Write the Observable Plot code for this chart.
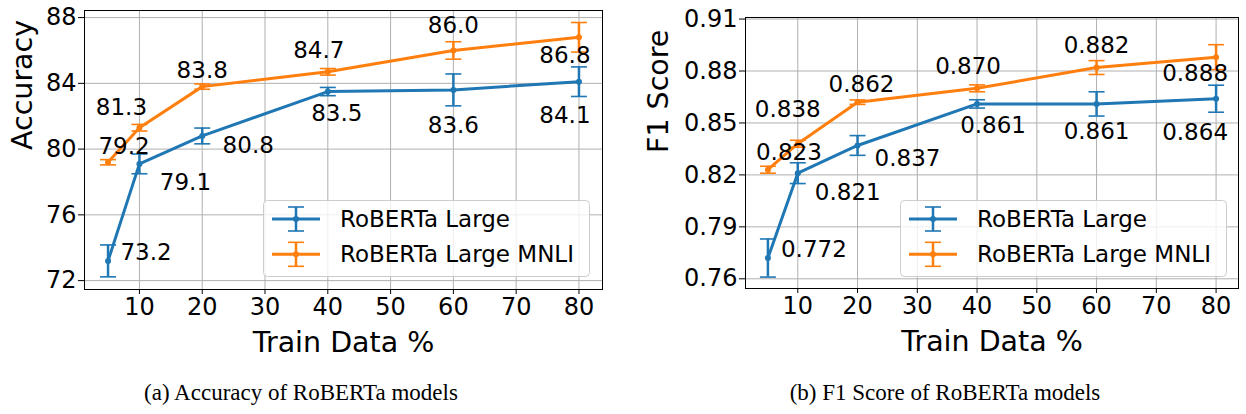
<!DOCTYPE html>
<html>
<head>
<meta charset="utf-8">
<script src="https://cdn.jsdelivr.net/npm/d3@7"></script>
<script src="https://cdn.jsdelivr.net/npm/@observablehq/plot@0.6"></script>
<style>
  html, body { margin: 0; padding: 0; background: white; }
  #root { position: relative; width: 1246px; height: 414px; overflow: hidden; font-family: "DejaVu Sans", sans-serif; }
  .panel { position: absolute; top: 0; }
  .caption { position: absolute; top: 381px; width: 500px; text-align: center; font-family: "Liberation Serif", "Times New Roman", serif; font-size: 23px; line-height: 23px; color: black; }
  .legend { position: absolute; overflow: visible; }
</style>
</head>
<body>
<div id="root"></div>
<script>
// ---- data ----
const trainPct = [5, 10, 20, 40, 60, 80];
const seriesNames = ["RoBERTa Large", "RoBERTa Large MNLI"];
const accLarge = [73.2, 79.1, 80.8, 83.5, 83.6, 84.1];
const accLargeErr = [0.97, 0.6, 0.48, 0.25, 0.97, 0.9];
const accMnli = [79.2, 81.3, 83.8, 84.7, 86.0, 86.8];
const accMnliErr = [0.16, 0.2, 0.16, 0.2, 0.53, 0.9];
const f1Large = [0.772, 0.821, 0.837, 0.861, 0.861, 0.864];
const f1LargeErr = [0.011, 0.006, 0.0057, 0.0024, 0.007, 0.0078];
const f1Mnli = [0.823, 0.838, 0.862, 0.870, 0.882, 0.888];
const f1MnliErr = [0.002, 0.002, 0.0013, 0.002, 0.004, 0.0072];
const xTicks = [10, 20, 30, 40, 50, 60, 70, 80];
const accTicks = [72, 76, 80, 84, 88];
const f1Ticks = [0.76, 0.79, 0.82, 0.85, 0.88, 0.91];
const xLabel = "Train Data %";
const captions = ["(a) Accuracy of RoBERTa models", "(b) F1 Score of RoBERTa models"];

// ---- layout (pixel offsets of the value annotations) ----
const accLargeOff = [[38,-8],[46,19],[46,10],[9,22],[0,36],[-14,34]];
const accMnliOff  = [[16,-16],[-18,-20],[0,-16],[-9,-21],[0,-25],[-14,18]];
const f1LargeOff  = [[46,-8],[50,19],[50,13],[16,22],[0,28],[-21,34]];
const f1MnliOff   = [[21,-17],[-10,-34],[4,-18],[-9,-22],[0,-22],[-21,16]];

const colors = ["#1f77b4", "#ff7f0e"];
const capSymbol = {
  draw(ctx, size) { const r = Math.sqrt(size / Math.PI); ctx.moveTo(-r, 0); ctx.lineTo(r, 0); }
};

function rows(vals, errs) {
  return trainPct.map((x, i) => ({x, y: vals[i], lo: vals[i] - errs[i], hi: vals[i] + errs[i]}));
}

function seriesMarks(data, color) {
  return [
    Plot.ruleX(data, {x: "x", y1: "lo", y2: "hi", stroke: color, strokeWidth: 2.5}),
    Plot.dot(data, {x: "x", y: "hi", symbol: capSymbol, r: 8, stroke: color, strokeWidth: 1.6, fill: "none"}),
    Plot.dot(data, {x: "x", y: "lo", symbol: capSymbol, r: 8, stroke: color, strokeWidth: 1.6, fill: "none"}),
    Plot.line(data, {x: "x", y: "y", stroke: color, strokeWidth: 3}),
    Plot.dot(data, {x: "x", y: "y", r: 3, fill: color, stroke: "none"})
  ];
}

function labelMarks(data, offs, fmt) {
  return data.map((d, i) => Plot.text([d], {
    x: "x", y: "y", text: (r) => fmt(r.y), dx: offs[i][0], dy: offs[i][1],
    fontSize: 23, fill: "black"
  }));
}

function makeChart(o) {
  const d1 = rows(o.v1, o.e1), d2 = rows(o.v2, o.e2);
  return Plot.plot({
    width: o.width, height: 360,
    marginLeft: o.ml, marginRight: o.mr, marginTop: o.mt, marginBottom: o.mb,
    style: {fontFamily: "DejaVu Sans", color: "black", background: "white", overflow: "visible"},
    x: {domain: [1.25, 83.75]},
    y: {domain: o.yDomain},
    marks: [
      Plot.gridX({ticks: xTicks, stroke: "#b0b0b0", strokeOpacity: 1, strokeWidth: 1}),
      Plot.gridY({ticks: o.yTicks, stroke: "#b0b0b0", strokeOpacity: 1, strokeWidth: 1}),
      Plot.axisX({ticks: xTicks, tickSize: 5, tickPadding: 3, fontSize: 24, label: null}),
      Plot.axisY({ticks: o.yTicks, tickFormat: o.tickFmt, tickSize: 6, tickPadding: 2, fontSize: 24, label: null}),
      ...seriesMarks(d1, colors[0]),
      ...seriesMarks(d2, colors[1]),
      Plot.frame({stroke: "black", strokeWidth: 1}),
      ...labelMarks(d1, o.off1, o.fmt),
      ...labelMarks(d2, o.off2, o.fmt),
      Plot.text([o.yLabel], {frameAnchor: "left", lineAnchor: "middle", dx: o.yLabelDx, rotate: -90, fontSize: 28.5, fill: "black"}),
      Plot.text([xLabel], {frameAnchor: "bottom", lineAnchor: "middle", dy: 53, fontSize: 28.5, fill: "black"})
    ]
  });
}

function makeLegend(left, top) {
  const ns = "http://www.w3.org/2000/svg";
  const svg = document.createElementNS(ns, "svg");
  svg.setAttribute("class", "legend");
  svg.setAttribute("width", 330); svg.setAttribute("height", 80);
  svg.style.left = left + "px"; svg.style.top = top + "px";
  const el = (tag, attrs, parent = svg) => {
    const e = document.createElementNS(ns, tag);
    for (const k in attrs) e.setAttribute(k, attrs[k]);
    parent.appendChild(e); return e;
  };
  el("rect", {x: 0.5, y: 0.5, width: 326, height: 76, rx: 4, fill: "white", "fill-opacity": 0.8, stroke: "#cccccc"});
  seriesNames.forEach((name, i) => {
    const cy = 19 + i * 35.3;
    const c = colors[i];
    el("line", {x1: 9, x2: 57, y1: cy, y2: cy, stroke: c, "stroke-width": 3});
    el("line", {x1: 33, x2: 33, y1: cy - 12, y2: cy + 12, stroke: c, "stroke-width": 2.5});
    el("line", {x1: 25, x2: 41, y1: cy - 12, y2: cy - 12, stroke: c, "stroke-width": 1.6});
    el("line", {x1: 25, x2: 41, y1: cy + 12, y2: cy + 12, stroke: c, "stroke-width": 1.6});
    el("circle", {cx: 33, cy: cy, r: 3, fill: c});
    const t = el("text", {x: 77, y: cy, "dominant-baseline": "central", "font-family": "DejaVu Sans", "font-size": 23, fill: "black"});
    t.textContent = name;
  });
  return svg;
}

const root = document.getElementById("root");

const left = makeChart({
  width: 620, ml: 84, mr: 18, mt: 10, mb: 71,
  yDomain: [71.46, 88.43], yTicks: accTicks, tickFmt: d3.format("d"),
  v1: accLarge, e1: accLargeErr, v2: accMnli, e2: accMnliErr,
  off1: accLargeOff, off2: accMnliOff, fmt: d3.format(".1f"),
  yLabel: "Accuracy", yLabelDx: -61.5
});
left.classList.add("panel"); left.style.left = "0px";
root.appendChild(left);

const right = makeChart({
  width: 620, ml: 119, mr: 8, mt: 17, mb: 72,
  yDomain: [0.7544, 0.9109], yTicks: f1Ticks, tickFmt: d3.format(".2f"),
  v1: f1Large, e1: f1LargeErr, v2: f1Mnli, e2: f1MnliErr,
  off1: f1LargeOff, off2: f1MnliOff, fmt: d3.format(".3f"),
  yLabel: "F1 Score", yLabelDx: -87
});
right.classList.add("panel"); right.style.left = "626px";
root.appendChild(right);

root.appendChild(makeLegend(263, 200));
root.appendChild(makeLegend(900, 200));

captions.forEach((txt, i) => {
  const d = document.createElement("div");
  d.className = "caption";
  d.textContent = txt;
  d.style.left = ([301, 945][i] - 250) + "px";
  root.appendChild(d);
});
</script>
</body>
</html>
